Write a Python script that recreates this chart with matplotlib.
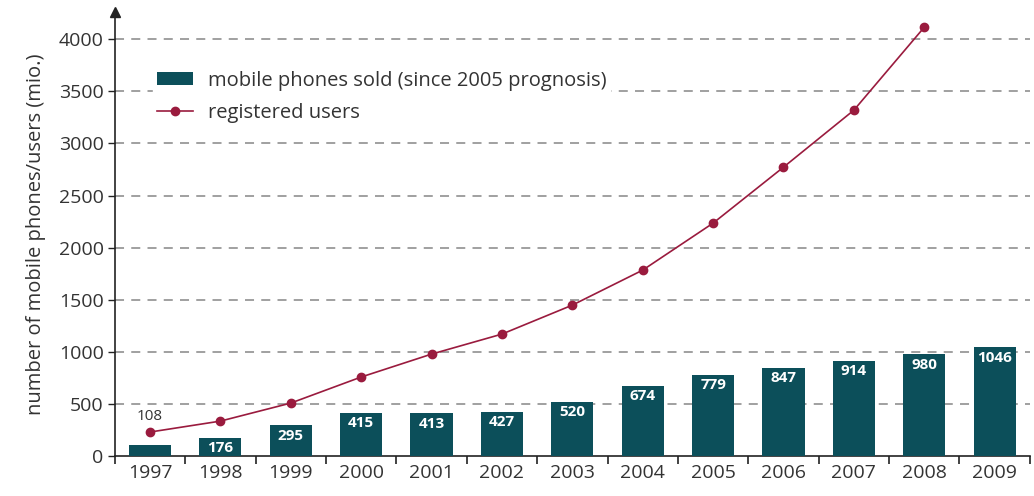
import matplotlib
matplotlib.use("Agg")
import matplotlib.pyplot as plt
import numpy as np

years = ["1997", "1998", "1999", "2000", "2001", "2002", "2003",
         "2004", "2005", "2006", "2007", "2008", "2009"]
phones_sold = [108, 176, 295, 415, 413, 427, 520, 674, 779, 847, 914, 980, 1046]
registered_users = [230, 335, 508, 758, 978, 1170, 1448, 1784, 2235, 2772, 3319, 4115]
y_ticks = [0, 500, 1000, 1500, 2000, 2500, 3000, 3500, 4000]

bar_color = "#0c4f5a"
line_color = "#9a1b3e"
text_color = "#333333"

plt.rcParams['font.family'] = ['Open Sans', 'DejaVu Sans']

fig = plt.figure(figsize=(10.34, 4.96), dpi=100)
ax = fig.add_axes([0.111, 0.0806, 0.885, 0.895])

x = np.arange(len(years))
bars = ax.bar(x, phones_sold, width=0.6, color=bar_color, zorder=3,
              label="mobile phones sold (since 2005 prognosis)")
xu = np.arange(len(registered_users))
line, = ax.plot(xu, registered_users, color=line_color, lw=1.2, marker="o", ms=6,
                zorder=4, label="registered users")

for i, v in enumerate(phones_sold):
    if i == 0:
        ax.text(xu[0], registered_users[0] + 80, str(v), ha="center", va="bottom",
                fontsize=11, color=text_color)
    else:
        ax.text(x[i], v - 35, str(v), ha="center", va="top", fontsize=11,
                fontweight="bold", color="white", zorder=5)

ax.set_xlim(-0.5, len(years) - 0.5)
ax.set_ylim(0, 4260)
ax.set_yticks(y_ticks)
ax.set_yticklabels([str(t) for t in y_ticks], fontsize=14, color=text_color)
ax.set_xticks(x)
ax.set_xticklabels(years, fontsize=14, color=text_color)
ax.set_xticks(np.arange(-0.5, len(years)), minor=True)
ax.tick_params(axis="x", which="major", length=0, pad=6)
ax.tick_params(axis="x", which="minor", length=6, width=1.2, direction="out", color="#222222")
ax.tick_params(axis="y", length=5, width=1.0, color="#222222", pad=3)

for t in y_ticks[1:]:
    ax.axhline(t, color="#999999", lw=1.3, ls=(0, (5, 4)), zorder=1)

for s in ["top", "right"]:
    ax.spines[s].set_visible(False)
ax.spines["left"].set_color("#222222")
ax.spines["bottom"].set_color("#222222")
ax.spines["left"].set_linewidth(1.2)
ax.spines["bottom"].set_linewidth(1.2)
ax.plot([0], [1.0], marker="^", ms=7, color="#222222", transform=ax.transAxes,
        clip_on=False, zorder=6)

ax.set_ylabel("number of mobile phones/users (mio.)", fontsize=14.5, color=text_color, labelpad=9)

leg = ax.legend(handles=[bars, line], loc="upper left", bbox_to_anchor=(0.031, 0.90), frameon=True,
                fontsize=14.5, handlelength=1.8, handleheight=0.55, borderpad=0.2,
                labelspacing=0.6, handletextpad=0.7, facecolor="white", edgecolor="white", framealpha=1)
for t in leg.get_texts():
    t.set_color(text_color)
leg.set_zorder(5)

fig.savefig("out.png", dpi=100)
